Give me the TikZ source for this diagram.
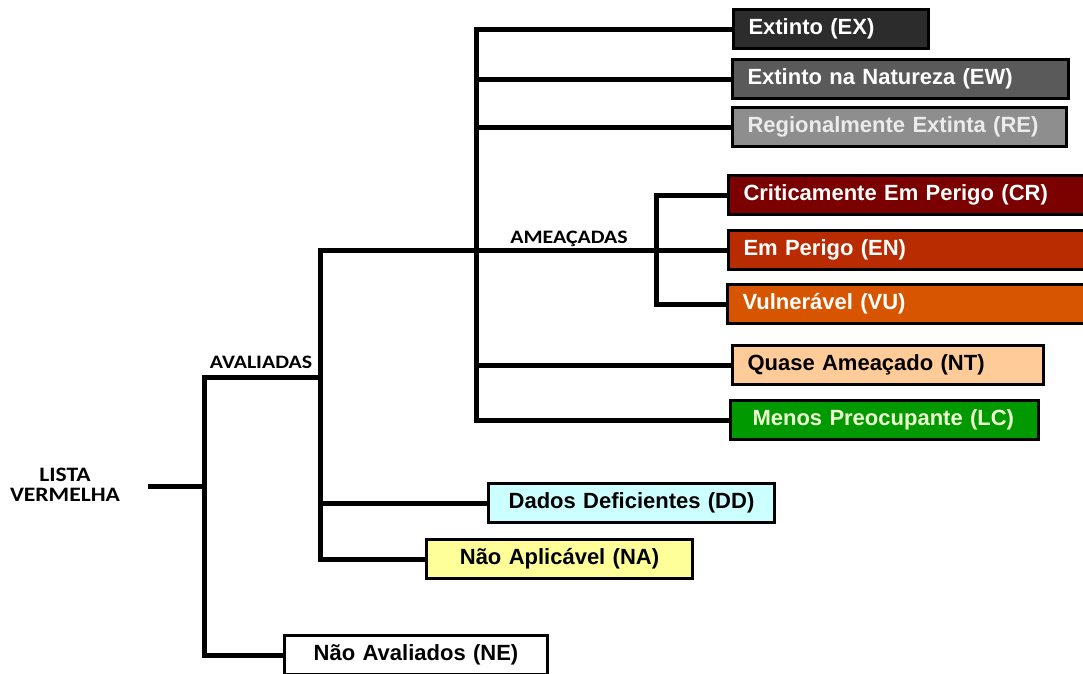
\documentclass[tikz,border=0pt]{standalone}
\usepackage{fontspec}
\setmainfont{Liberation Sans}
\newfontfamily\grpfont[FakeStretch=1.15]{Carlito}

\definecolor{excol}{HTML}{2C2C2C}
\definecolor{ewcol}{HTML}{5A5A5A}
\definecolor{recol}{HTML}{8E8E8E}
\definecolor{crcol}{HTML}{7B0000}
\definecolor{encol}{HTML}{B92B00}
\definecolor{vucol}{HTML}{D85500}
\definecolor{ntcol}{HTML}{FFCC99}
\definecolor{lccol}{HTML}{009A00}
\definecolor{ddcol}{HTML}{CCFFFF}
\definecolor{nacol}{HTML}{FFFF99}

\begin{document}
\begin{tikzpicture}[x=1pt,y=-1pt,
    branch/.style={line width=5pt},
    catbox/.style={draw,line width=3pt,anchor=west,minimum height=39pt,
        inner xsep=15pt,inner ysep=0pt,align=left,
        font=\fontsize{22}{26}\selectfont\bfseries},
    grplabel/.style={font=\grpfont\bfseries\fontsize{19}{21}\selectfont}]
    \useasboundingbox (0,0) rectangle (1083,673);
    \clip (0,0) rectangle (1083,673);
    \pgfmathsetmacro{\boxpad}{33}  % 2*inner xsep + border

    % categories
    \node[catbox,fill=excol,text=white,text width=198-\boxpad] (ex) at (732,29) {Extinto (EX)};
    \node[catbox,fill=ewcol,text=white,text width=339-\boxpad] (ew) at (731,79) {Extinto na Natureza (EW)};
    \node[catbox,fill=recol,text=black!8,text width=337-\boxpad] (re) at (731,127) {Regionalmente Extinta (RE)};
    \node[catbox,fill=crcol,text=white,text width=400-\boxpad] (cr) at (727,195) {Criticamente Em Perigo (CR)};
    \node[catbox,fill=encol,text=white,text width=400-\boxpad] (en) at (727,250) {Em Perigo (EN)};
    \node[catbox,fill=vucol,text=white,text width=400-\boxpad] (vu) at (726,304) {Vulnerável (VU)};
    \node[catbox,fill=ntcol,text=black,text width=314-\boxpad] (nt) at (731,365) {Quase Ameaçado (NT)};
    \node[catbox,fill=lccol,text={rgb,255:red,238;green,255;blue,210},text width=311-\boxpad-14,inner xsep=22pt] (lc) at (729,420) {Menos Preocupante (LC)};
    \node[catbox,fill=ddcol,text=black,text width=289-\boxpad,align=center] (dd) at (487,503) {Dados Deficientes (DD)};
    \node[catbox,fill=nacol,text=black,text width=269-\boxpad,align=center] (na) at (425,559) {Não Aplicável (NA)};
    \node[catbox,fill=white,text=black,text width=266-\boxpad,align=center] (ne) at (283,655) {Não Avaliados (NE)};

    % groups
    \node[grplabel,align=center,font=\grpfont\bfseries\fontsize{20.5}{20}\selectfont] (lista) at (65,485) {LISTA\\VERMELHA};
    \node[grplabel] (aval) at (261,362) {AVALIADAS};
    \node[grplabel] (amea) at (569,239) {AMEAÇADAS};

    \coordinate (root) at (148,486);
    \coordinate (ja) at (204,377);
    \coordinate (jb) at (320,377);
    \coordinate (jc) at (476,0);
    \coordinate (jd) at (656,0);

    % tree
    \draw[branch] (root) -- (root -| ja);
    \draw[branch] (ne.west) -| (ja) -- (jb);
    \draw[branch] (na.west) -| (jb |- en.west) -- (en.west);
    \draw[branch] (dd.west) -- (dd.west -| jb);
    \draw[branch] (ex.west) -| (jc |- lc.west) -- (lc.west);
    \foreach \n in {ew,re,nt}
        \draw[branch] (\n.west) -- (\n.west -| jc);
    \draw[branch] (cr.west) -| (jd |- vu.west) -- (vu.west);
\end{tikzpicture}
\end{document}
